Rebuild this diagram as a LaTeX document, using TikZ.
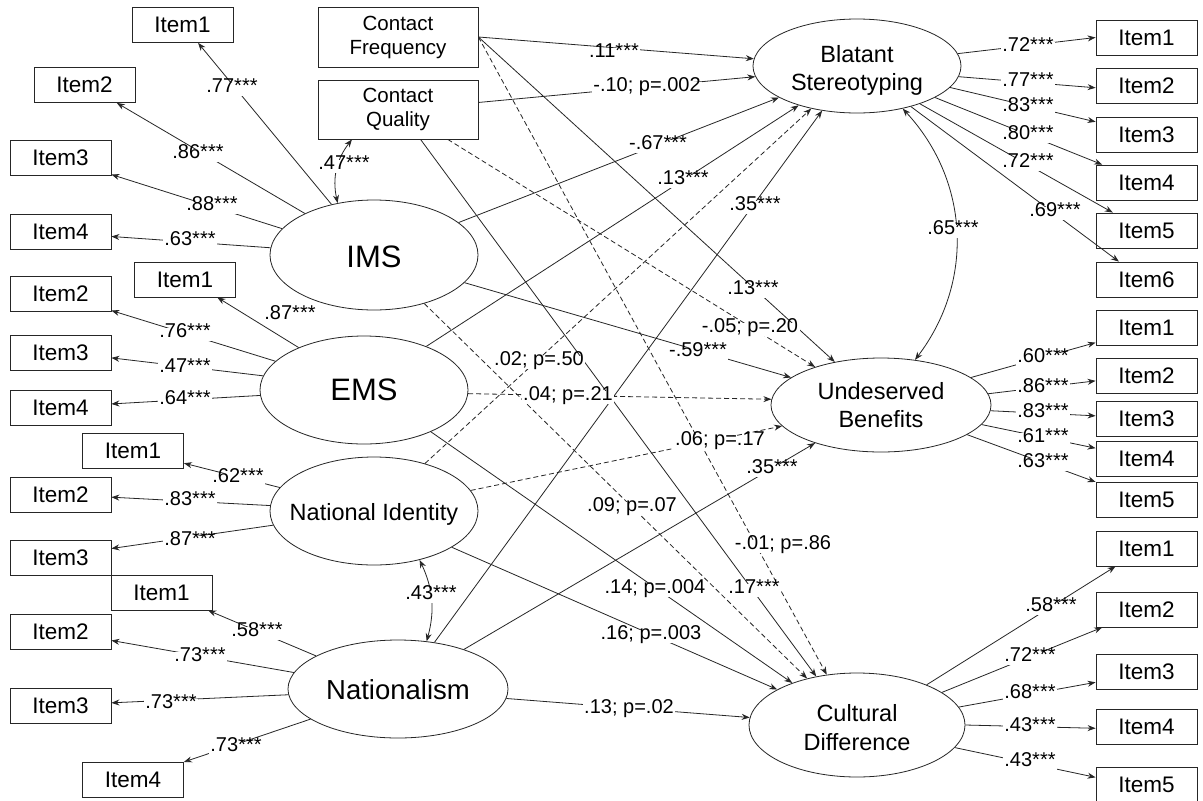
\documentclass[tikz,border=0pt]{standalone}
\usepackage{fontspec}
\setmainfont{Liberation Sans}
\usetikzlibrary{shapes.geometric,arrows.meta}

\begin{document}
\begin{tikzpicture}[x=1pt,y=-1pt,
  item/.style={draw=black!85, line width=0.8pt, minimum width=101pt, minimum height=35pt,
    inner sep=0pt, font=\fontsize{22.5}{24}\selectfont},
  latent/.style={ellipse, draw=black!85, line width=0.8pt, inner sep=0pt},
  lattext/.style={inner sep=0pt, align=center, font=\fontsize{23.5}{28.5}\selectfont},
  obs/.style={draw=black!85, line width=0.8pt, inner sep=0pt, align=center,
    minimum width=160pt, font=\fontsize{20.5}{24}\selectfont},
  arr/.style={line width=0.8pt, draw=black!85, -{Stealth[length=8pt,width=6pt]}},
  darr/.style={arr, dash pattern=on 5pt off 3pt},
  cov/.style={line width=0.8pt, draw=black!85,
    {Stealth[length=8pt,width=6pt]}-{Stealth[length=8pt,width=6pt]}},
  lbl/.style={fill=white, inner sep=1.5pt, font=\fontsize{20}{22}\selectfont,
    text height=0.75em, text depth=0.22em, yshift=-1.8pt}
]
\fill[white] (0,0) rectangle (1203,801);
\useasboundingbox (0,0) rectangle (1203,801);

% ---- latent variables
\node[latent, minimum width=208pt, minimum height=94pt]  (BS)  at (857,66)  {};
\node[latent, minimum width=220pt, minimum height=94pt]  (UB)  at (881,405) {};
\node[latent, minimum width=216pt, minimum height=104pt] (CD)  at (857,725) {};
\node[latent, minimum width=208pt, minimum height=110pt] (IMS) at (374,255) {};
\node[latent, minimum width=208pt, minimum height=108pt] (EMS) at (364,390) {};
\node[latent, minimum width=208pt, minimum height=108pt] (NI)  at (374,511) {};
\node[latent, minimum width=220pt, minimum height=98pt]  (NAT) at (398,689) {};

\node[lattext, yshift=-4.5pt] (BSt) at (BS) {Blatant\\Stereotyping};
\node[lattext] (UBt) at (UB) {Undeserved\\Benefits};
\node[lattext, yshift=-2.5pt] (CDt) at (CD) {Cultural\\Difference};
\node[lattext, font=\fontsize{31}{34}\selectfont, yshift=-1.5pt] (IMSt) at (IMS) {IMS};
\node[lattext, font=\fontsize{31}{34}\selectfont] (EMSt) at (EMS) {EMS};
\node[lattext, yshift=-3pt] (NIt) at (NI) {National Identity};
\node[lattext, font=\fontsize{27.5}{30}\selectfont, yshift=-1pt] (NATt) at (NAT) {Nationalism};

% ---- contact measures
\node[obs, minimum height=60pt] (CF) at (398,37)    {Contact\\Frequency};
\node[obs, minimum height=59pt] (CQ) at (398,109.5) {Contact\\Quality};

% ---- indicators, left side
\node[item] (IMSi1) at (182.5,25)  {Item1};
\node[item] (IMSi2) at (84.5,85)   {Item2};
\node[item] (IMSi3) at (60.5,158)  {Item3};
\node[item] (IMSi4) at (60.5,232)  {Item4};
\node[item] (EMSi1) at (185,279.5) {Item1};
\node[item] (EMSi2) at (60.5,294)  {Item2};
\node[item] (EMSi3) at (60.5,352.5){Item3};
\node[item] (EMSi4) at (60.5,407.5){Item4};
\node[item] (NIi1)  at (133,450.5) {Item1};
\node[item] (NIi2)  at (60.5,494.5){Item2};
\node[item] (NIi3)  at (60.5,557.5){Item3};
\node[item] (NATi1) at (161.5,592.5){Item1};
\node[item] (NATi2) at (60.5,631.5){Item2};
\node[item] (NATi3) at (60.5,705.5){Item3};
\node[item] (NATi4) at (133,779.5) {Item4};

% ---- indicators, right side
\node[item] (BSi1) at (1146.5,37.5)  {Item1};
\node[item] (BSi2) at (1146.5,86)    {Item2};
\node[item] (BSi3) at (1146.5,134.5) {Item3};
\node[item] (BSi4) at (1146.5,182.5) {Item4};
\node[item] (BSi5) at (1146.5,230.5) {Item5};
\node[item] (BSi6) at (1146.5,279.5) {Item6};
\node[item] (UBi1) at (1146.5,328)   {Item1};
\node[item] (UBi2) at (1146.5,375.5) {Item2};
\node[item] (UBi3) at (1146.5,418.5) {Item3};
\node[item] (UBi4) at (1146.5,459)   {Item4};
\node[item] (UBi5) at (1146.5,499.5) {Item5};
\node[item] (CDi1) at (1146.5,548.5) {Item1};
\node[item] (CDi2) at (1146.5,609.5) {Item2};
\node[item] (CDi3) at (1146.5,671.5) {Item3};
\node[item] (CDi4) at (1146.5,726.5) {Item4};
\node[item] (CDi5) at (1146.5,784.5) {Item5};

% ---- measurement paths, left
\draw[arr] (IMS.130) -- (IMSi1.-49);
\draw[arr] (IMS.149) -- (IMSi2.-29);
\draw[arr] (IMS.164) -- (IMSi3.-18);
\draw[arr] (IMS.176) -- (IMSi4.-5);
\draw[arr] (EMS.147) -- (EMSi1.-29);
\draw[arr] (EMS.162) -- (EMSi2.-18);
\draw[arr] (EMS.172) -- (EMSi3.-6);
\draw[arr] (EMS.183) -- (EMSi4.4);
\draw[arr] (NI.166) -- (NIi1.-14);
\draw[arr] (NI.177) -- (NIi2.-3);
\draw[arr] (NI.188) -- (NIi3.10);
\draw[arr] (NAT.158) -- (NATi1.-21);
\draw[arr] (NAT.171) -- (NATi2.-10);
\draw[arr] (NAT.183) -- (NATi3.3);
\draw[arr] (NAT.199) -- (NATi4.19);

% ---- measurement paths, right
\draw[arr] (BS.7)   -- (BSi1.180);
\draw[arr] (BS.-6)  -- (BSi2.182);
\draw[arr] (BS.-13) -- (BSi3.166);
\draw[arr] (BS.-22) -- (BSi4.158);
\draw[arr] (BS.-31) -- (BSi5.152);
\draw[arr] (BS.-37) -- (BSi6.147);
\draw[arr] (UB.17)  -- (UBi1.196);
\draw[arr] (UB.6)   -- (UBi2.186);
\draw[arr] (UB.-3)  -- (UBi3.177);
\draw[arr] (UB.-11) -- (UBi4.168);
\draw[arr] (UB.-19) -- (UBi5.161);
\draw[arr] (CD.30)  -- (CDi1.210);
\draw[arr] (CD.21)  -- (CDi2.202);
\draw[arr] (CD.10)  -- (CDi3.192);
\draw[arr] (CD.0)   -- (CDi4.182);
\draw[arr] (CD.-13) -- (CDi5.172);

% ---- structural paths
\draw[arr]  (CF.east) -- (BS.176);
\draw[arr]  (CF.east) -- (UB.137);
\draw[darr] (CF.east) -- (CD.121);
\draw[arr]  (CQ.5)    -- (BS.186);
\draw[arr]  (CQ.-53)  -- (CD.130);
\draw[darr] (CQ.-31)  -- (UB.150);
\draw[arr]  (IMS.21)  -- (BS.202);
\draw[arr]  (EMS.35)  -- (BS.214);
\draw[darr] (NI.43)   -- (BS.223);
\draw[arr]  (NAT.52)  -- (BS.232);
\draw[arr]  (IMS.-17) -- (UB.163);
\draw[darr] (IMS.-44) -- (CD.137);
\draw[darr] (EMS.-2)  -- (UB.177);
\draw[arr]  (EMS.-32) -- (CD.147);
\draw[darr] (NI.12)   -- (UB.192);
\draw[arr]  (NI.-25)  -- (CD.156);
\draw[arr]  (NAT.31)  -- (UB.210);
\draw[arr]  (NAT.-5)  -- (CD.176);

% ---- covariances
\draw[cov] (CQ.213) to[bend right=25] (IMS.125);
\draw[cov] (BS.-43) to[bend left=40] (UB.53);
\draw[cov] (NI.-47) to[bend left=20] (NAT.59);

% ---- coefficients, left loadings
\node[lbl] (l01) at (232,88)  {.77***};
\node[lbl] (l02) at (198,154) {.86***};
\node[lbl] (l03) at (212,206) {.88***};
\node[lbl] (l04) at (190,241) {.63***};
\node[lbl] (l05) at (290,315) {.87***};
\node[lbl] (l06) at (185,333) {.76***};
\node[lbl] (l07) at (185,368) {.47***};
\node[lbl] (l08) at (185,400) {.64***};
\node[lbl] (l09) at (238,478) {.62***};
\node[lbl] (l10) at (190,501) {.83***};
\node[lbl] (l11) at (190,541) {.87***};
\node[lbl] (l12) at (257,632) {.58***};
\node[lbl] (l13) at (200,657) {.73***};
\node[lbl] (l14) at (171,704) {.73***};
\node[lbl] (l15) at (236,747) {.73***};

% ---- coefficients, right loadings
\node[lbl] (r01) at (1028,47)  {.72***};
\node[lbl] (r02) at (1028,82)  {.77***};
\node[lbl] (r03) at (1028,107) {.83***};
\node[lbl] (r04) at (1028,135) {.80***};
\node[lbl] (r05) at (1028,163) {.72***};
\node[lbl] (r06) at (1055,212) {.69***};
\node[lbl] (r07) at (1043,358) {.60***};
\node[lbl] (r08) at (1043,388) {.86***};
\node[lbl] (r09) at (1043,413) {.83***};
\node[lbl] (r10) at (1043,438) {.61***};
\node[lbl] (r11) at (1043,463) {.63***};
\node[lbl] (r12) at (1051,607) {.58***};
\node[lbl] (r13) at (1030,657) {.72***};
\node[lbl] (r14) at (1030,694) {.68***};
\node[lbl] (r15) at (1030,727) {.43***};
\node[lbl] (r16) at (1030,762) {.43***};

% ---- coefficients, structural paths and covariances
\node[lbl] (s01) at (614,53)  {.11***};
\node[lbl] (s02) at (647,87)  {-.10; p=.002};
\node[lbl] (s03) at (658,145) {-.67***};
\node[lbl] (s04) at (683,180) {.13***};
\node[lbl] (s05) at (755,206) {.35***};
\node[lbl] (s06) at (753,290) {.13***};
\node[lbl] (s07) at (750,328) {-.05; p=.20};
\node[lbl] (s08) at (698,352) {-.59***};
\node[lbl] (s09) at (539,361) {.02; p=.50};
\node[lbl] (s10) at (568,396) {.04; p=.21};
\node[lbl] (s11) at (720,441) {.06; p=.17};
\node[lbl] (s12) at (772,469) {.35***};
\node[lbl] (s13) at (632,507) {.09; p=.07};
\node[lbl] (s14) at (783,545) {-.01; p=.86};
\node[lbl] (s15) at (655,589) {.14; p=.004};
\node[lbl] (s16) at (754,589) {.17***};
\node[lbl] (s17) at (651,635) {.16; p=.003};
\node[lbl] (s18) at (629,709) {.13; p=.02};
\node[lbl] (c01) at (344,165) {.47***};
\node[lbl] (c02) at (953,230) {.65***};
\node[lbl] (c03) at (431,595) {.43***};
\end{tikzpicture}
\end{document}
